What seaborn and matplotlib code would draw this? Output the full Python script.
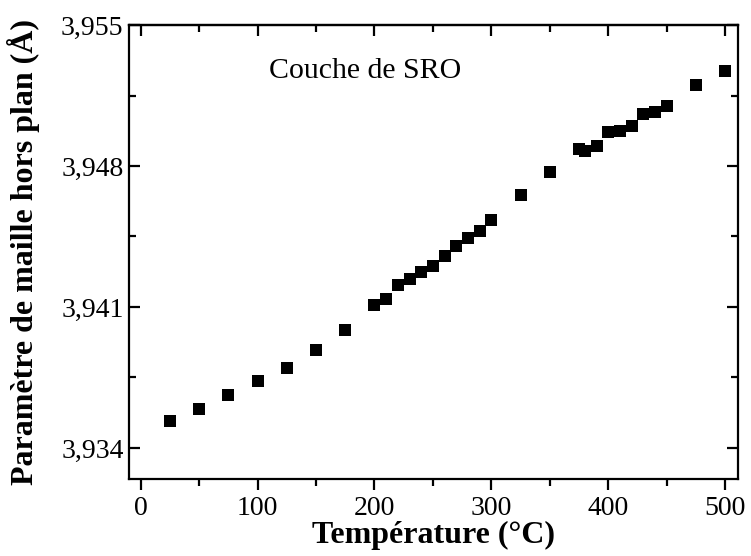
import numpy as np
import pandas as pd
import matplotlib
matplotlib.use("Agg")
import matplotlib.pyplot as plt
import seaborn as sns

# data
temperature = [25, 50, 75, 100, 125, 150, 175, 200, 210, 220, 230, 240, 250,
               260, 270, 280, 290, 300, 325, 350, 375, 380, 390, 400, 410,
               420, 430, 440, 450, 475, 500]
parametre = [3.93533, 3.93595, 3.93663, 3.93734, 3.93799, 3.93887, 3.93988,
             3.94110, 3.94140, 3.94207, 3.94240, 3.94273, 3.94306, 3.94352,
             3.94404, 3.94444, 3.94479, 3.94531, 3.94658, 3.94770, 3.94883,
             3.94875, 3.94897, 3.94971, 3.94976, 3.94998, 3.95056, 3.95067,
             3.95097, 3.95201, 3.95273]
x_ticks = [0, 100, 200, 300, 400, 500]
y_ticks = [3.934, 3.941, 3.948, 3.955]
y_tick_labels = ["3,934", "3,941", "3,948", "3,955"]

data = pd.DataFrame({"T": temperature, "a": parametre})

sns.set_style("ticks", {"axes.edgecolor": "black", "text.color": "black",
                        "xtick.color": "black", "ytick.color": "black",
                        "axes.labelcolor": "black"})
plt.rcParams["font.family"] = ["Liberation Serif", "DejaVu Serif"]

fig = plt.figure(figsize=(7.51, 5.56), dpi=100)
ax = fig.add_axes([0.1718, 0.1385, 0.8109, 0.8165])

sns.scatterplot(data=data, x="T", y="a", marker="s", color="black",
                s=80, linewidth=0, ax=ax)

ax.set_xlim(-10, 511)
ax.set_ylim(3.93246, 3.955)
ax.set_xticks(x_ticks)
ax.set_xticks(np.arange(50, 501, 100), minor=True)
ax.set_yticks(y_ticks)
ax.set_yticklabels(y_tick_labels)
ax.set_yticks([3.9375, 3.9445, 3.9515], minor=True)

for s in ax.spines.values():
    s.set_linewidth(1.6)
    s.set_color("black")
    s.set_visible(True)

ax.tick_params(axis="x", which="major", direction="out", length=8, width=1.6,
               labelsize=20, pad=4)
ax.tick_params(axis="x", which="minor", direction="out", length=5, width=1.6)
ax.tick_params(axis="y", which="major", direction="in", length=8, width=1.6,
               labelsize=20, right=True, pad=4)
ax.tick_params(axis="y", which="minor", direction="in", length=5, width=1.6,
               right=True)

# top axis ticks point inward
top = ax.secondary_xaxis("top")
top.set_xticks(x_ticks)
top.set_xticks(np.arange(50, 501, 100), minor=True)
top.tick_params(axis="x", which="major", direction="in", length=8, width=1.6,
                labeltop=False, color="black")
top.tick_params(axis="x", which="minor", direction="in", length=5, width=1.6,
                color="black")
top.spines["top"].set_linewidth(1.6)
top.spines["top"].set_color("black")

ax.set_xlabel("Température (°C)", fontsize=23, fontweight="bold", labelpad=0)
ax.set_ylabel("Paramètre de maille hors plan (Å)", fontsize=23,
              fontweight="bold", labelpad=15)

ax.text(110, 3.95238, "Couche de SRO", fontsize=21.5, va="baseline")

fig.savefig("out.png", dpi=100)
